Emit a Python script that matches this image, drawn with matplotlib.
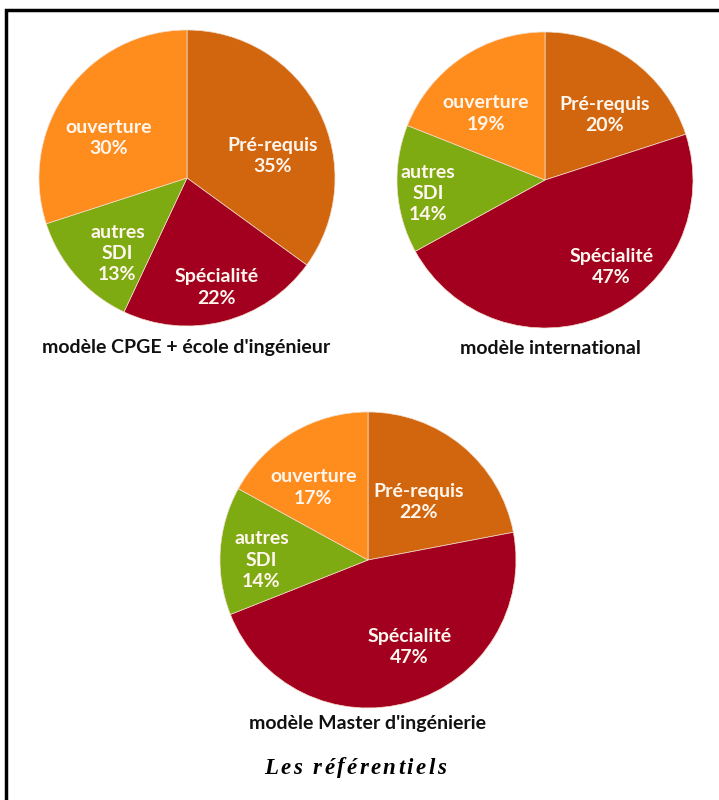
import matplotlib
matplotlib.use("Agg")
import matplotlib.pyplot as plt
from matplotlib.patches import Rectangle

plt.rcParams['font.family'] = ['Lato', 'DejaVu Sans']

# data
categories = ["Pré-requis", "Spécialité", "autres\nSDI", "ouverture"]
colors = ["#D2660F", "#A3001F", "#7EAA12", "#FF8D1E"]
titles = ["modèle CPGE + école d'ingénieur", "modèle international",
          "modèle Master d'ingénierie"]
values_cpge = [35, 22, 13, 30]
values_inter = [20, 47, 14, 19]
values_master = [22, 47, 14, 17]
caption = "Les référentiels"

W, H = 719, 800
fig = plt.figure(figsize=(W / 100, H / 100), dpi=100)

# frame (only top and left edges visible in the reference)
fig.add_artist(Rectangle((6 / W, -0.1), 1.2, 1.1 - 10 / H,
                         transform=fig.transFigure, fill=False,
                         edgecolor="black", linewidth=2.5))

# layout: pie centres (px), radius (px), label offsets (in radius units)
centres = [(187, 178), (545, 180), (368, 560)]
R = 148
label_pos = [
    [(0.58, 0.15), (0.20, -0.74), (-0.47, -0.51), (-0.53, 0.27)],
    [(0.40, 0.44), (0.45, -0.59), (-0.79, -0.09), (-0.40, 0.45)],
    [(0.34, 0.39), (0.28, -0.59), (-0.72, 0.00), (-0.37, 0.49)],
]
title_pos = [(186, 347), (550, 348), (367, 723)]

for values, (cx, cy), lp, title, tp in zip(
        [values_cpge, values_inter, values_master], centres, label_pos,
        titles, title_pos):
    ax = fig.add_axes([(cx - R) / W, (H - cy - R) / H, 2 * R / W, 2 * R / H])
    ax.pie(values, colors=colors, startangle=90, counterclock=False,
           radius=1, wedgeprops=dict(edgecolor="#f3dcc8", linewidth=0.5))
    ax.set_xlim(-1, 1)
    ax.set_ylim(-1, 1)
    ax.axis("off")
    for cat, v, (x, y) in zip(categories, values, lp):
        ax.text(x, y, f"{cat}\n{v}%", ha="center", va="center",
                color="#FFF6EE", fontsize=14, fontweight="bold",
                linespacing=1.3)
    fig.text(tp[0] / W, 1 - tp[1] / H, title, ha="center", va="center",
             fontsize=14, fontweight="bold", color="#111111")

# caption with letter spacing
fig.canvas.draw()
renderer = fig.canvas.get_renderer()
cap_font = dict(family=['Liberation Serif', 'DejaVu Serif'], style="italic",
                weight="bold", size=16.5)
spacing = 2.4
widths = []
for ch in caption:
    t = fig.text(0, 0, ch if ch != " " else "n", **cap_font)
    widths.append(t.get_window_extent(renderer).width if ch != " " else 6)
    t.remove()
total = sum(widths) + spacing * (len(caption) - 1)
x = 355 - total / 2
for ch, w in zip(caption, widths):
    if ch != " ":
        fig.text(x / W, 1 - 768 / H, ch, va="center", ha="left", **cap_font)
    x += w + spacing

fig.savefig("out.png", dpi=100)
